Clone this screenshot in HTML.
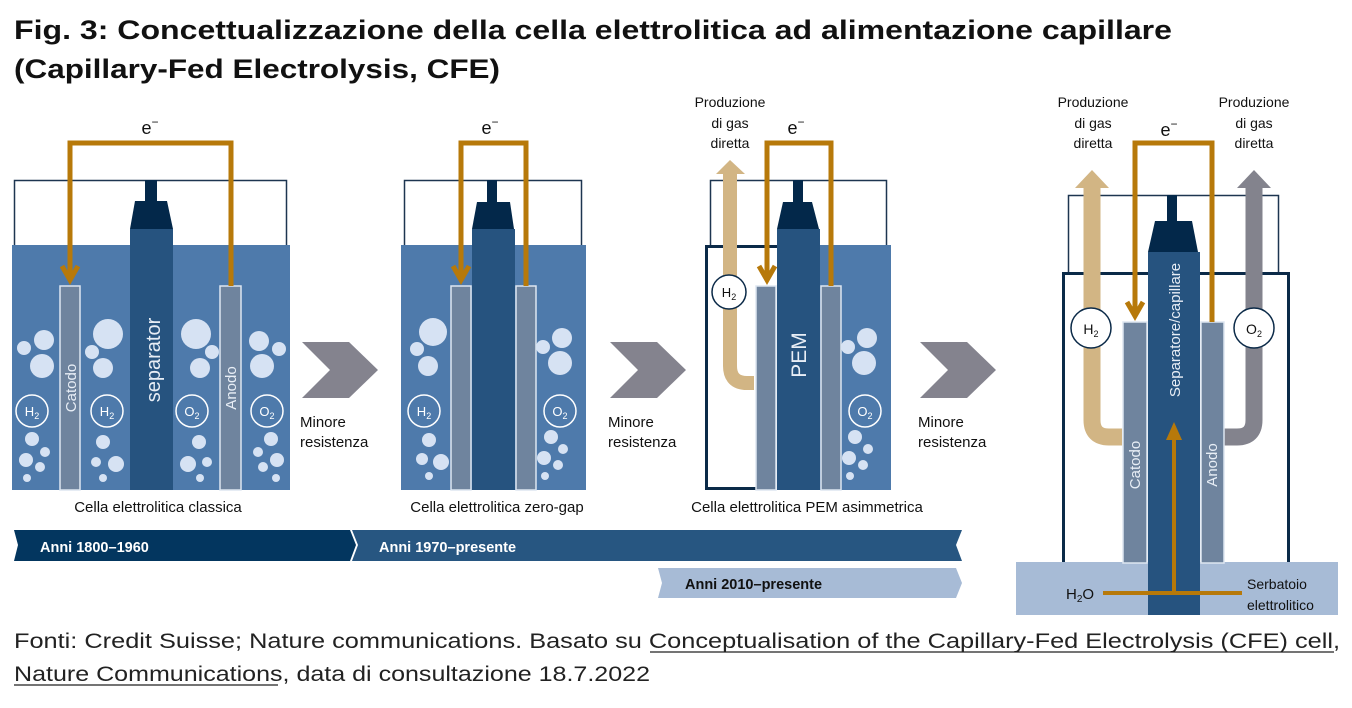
<!DOCTYPE html>
<html><head><meta charset="utf-8"><style>
html,body{margin:0;padding:0;background:#fff;}
svg{display:block;font-family:"Liberation Sans",Arial,sans-serif;}
</style></head><body>
<svg width="1352" height="708" viewBox="0 0 1352 708" xmlns="http://www.w3.org/2000/svg">
<!-- Title -->
<text x="14" y="39" font-size="27" font-weight="bold" fill="#111" textLength="1158" lengthAdjust="spacingAndGlyphs">Fig. 3: Concettualizzazione della cella elettrolitica ad alimentazione capillare</text>
<text x="14" y="78" font-size="27" font-weight="bold" fill="#111" textLength="486" lengthAdjust="spacingAndGlyphs">(Capillary-Fed Electrolysis, CFE)</text>

<!-- ============ CELL 1 ============ -->
<rect x="14.5" y="180.5" width="272" height="66" fill="#fff" stroke="#1d3550" stroke-width="1.5"/>
<rect x="12" y="245" width="278" height="245" fill="#4e7aab"/>
<rect x="145" y="180" width="12" height="22" fill="#03284a"/>
<polygon points="135,201 167,201 173,229 130,229" fill="#03284a"/>
<rect x="130" y="229" width="43" height="261" fill="#26537f"/>
<rect x="60" y="286" width="20" height="204" fill="#6f849e" stroke="#dde6f1" stroke-width="1.5"/>
<rect x="220" y="286" width="21" height="204" fill="#6f849e" stroke="#dde6f1" stroke-width="1.5"/>
<path d="M231,286 V143 H70 V278" fill="none" stroke="#b7790a" stroke-width="5"/>
<path d="M62,266 L70,280 L78,266" fill="none" stroke="#b7790a" stroke-width="5"/>
<text x="150" y="134" font-size="18" text-anchor="middle" fill="#111">e<tspan font-size="12" dy="-8">−</tspan></text>
<g fill="#d6e2f3">
<circle cx="24" cy="348" r="7"/><circle cx="44" cy="340" r="10"/><circle cx="42" cy="366" r="12"/>
<circle cx="32" cy="439" r="7"/><circle cx="45" cy="452" r="5"/><circle cx="26" cy="460" r="7"/><circle cx="40" cy="467" r="5"/><circle cx="27" cy="478" r="4"/>
<circle cx="108" cy="334" r="15"/><circle cx="92" cy="352" r="7"/><circle cx="103" cy="368" r="10"/>
<circle cx="103" cy="442" r="7"/><circle cx="116" cy="464" r="8"/><circle cx="96" cy="462" r="5"/><circle cx="103" cy="478" r="4"/>
<circle cx="196" cy="334" r="15"/><circle cx="212" cy="352" r="7"/><circle cx="200" cy="368" r="10"/>
<circle cx="199" cy="442" r="7"/><circle cx="188" cy="464" r="8"/><circle cx="207" cy="462" r="5"/><circle cx="200" cy="478" r="4"/>
<circle cx="259" cy="341" r="10"/><circle cx="279" cy="349" r="7"/><circle cx="262" cy="366" r="12"/>
<circle cx="271" cy="439" r="7"/><circle cx="258" cy="452" r="5"/><circle cx="277" cy="460" r="7"/><circle cx="263" cy="467" r="5"/><circle cx="276" cy="478" r="4"/>
</g>
<g fill="none" stroke="#fff" stroke-width="1.5">
<circle cx="32" cy="411" r="16"/><circle cx="107" cy="411" r="16"/><circle cx="192" cy="411" r="16"/><circle cx="267" cy="411" r="16"/>
</g>
<g fill="#fff" font-size="13" text-anchor="middle">
<text x="32" y="416">H<tspan font-size="9" dy="3">2</tspan></text>
<text x="107" y="416">H<tspan font-size="9" dy="3">2</tspan></text>
<text x="192" y="416">O<tspan font-size="9" dy="3">2</tspan></text>
<text x="267" y="416">O<tspan font-size="9" dy="3">2</tspan></text>
</g>
<text transform="translate(76,388) rotate(-90)" font-size="15" fill="#e8eef6" text-anchor="middle">Catodo</text>
<text transform="translate(236,388) rotate(-90)" font-size="15" fill="#e8eef6" text-anchor="middle">Anodo</text>
<text transform="translate(160,360) rotate(-90)" font-size="20" fill="#e8eef6" text-anchor="middle">separator</text>
<text x="158" y="512" font-size="15" text-anchor="middle" fill="#111">Cella elettrolitica classica</text>

<!-- Chevrons -->
<g fill="#84838e">
<polygon points="302,342 349,342 378,370 349,398 302,398 330,370"/>
<polygon points="610,342 657,342 686,370 657,398 610,398 638,370"/>
<polygon points="920,342 967,342 996,370 967,398 920,398 948,370"/>
</g>
<g font-size="15" fill="#111">
<text x="300" y="427">Minore</text><text x="300" y="447">resistenza</text>
<text x="608" y="427">Minore</text><text x="608" y="447">resistenza</text>
<text x="918" y="427">Minore</text><text x="918" y="447">resistenza</text>
</g>

<!-- ============ CELL 2 ============ -->
<rect x="404.5" y="180.5" width="177" height="66" fill="#fff" stroke="#1d3550" stroke-width="1.5"/>
<rect x="401" y="245" width="185" height="245" fill="#4e7aab"/>
<rect x="487" y="180" width="10" height="22" fill="#03284a"/>
<polygon points="477,202 510,202 514,229 472,229" fill="#03284a"/>
<rect x="472" y="229" width="43" height="261" fill="#26537f"/>
<rect x="451" y="286" width="20" height="204" fill="#6f849e" stroke="#dde6f1" stroke-width="1.5"/>
<rect x="516" y="286" width="20" height="204" fill="#6f849e" stroke="#dde6f1" stroke-width="1.5"/>
<path d="M526,286 V143 H461 V278" fill="none" stroke="#b7790a" stroke-width="5"/>
<path d="M453,266 L461,280 L469,266" fill="none" stroke="#b7790a" stroke-width="5"/>
<text x="490" y="134" font-size="18" text-anchor="middle" fill="#111">e<tspan font-size="12" dy="-8">−</tspan></text>
<g fill="#d6e2f3">
<circle cx="433" cy="332" r="14"/><circle cx="417" cy="349" r="7"/><circle cx="428" cy="366" r="10"/>
<circle cx="429" cy="440" r="7"/><circle cx="422" cy="459" r="6"/><circle cx="441" cy="462" r="8"/><circle cx="429" cy="476" r="4"/>
<circle cx="562" cy="338" r="10"/><circle cx="543" cy="347" r="7"/><circle cx="560" cy="363" r="12"/>
<circle cx="551" cy="437" r="7"/><circle cx="563" cy="449" r="5"/><circle cx="544" cy="458" r="7"/><circle cx="558" cy="465" r="5"/><circle cx="545" cy="476" r="4"/>
</g>
<g fill="none" stroke="#fff" stroke-width="1.5"><circle cx="424" cy="411" r="16"/><circle cx="560" cy="411" r="16"/></g>
<g fill="#fff" font-size="13" text-anchor="middle">
<text x="424" y="416">H<tspan font-size="9" dy="3">2</tspan></text>
<text x="560" y="416">O<tspan font-size="9" dy="3">2</tspan></text>
</g>
<text x="497" y="512" font-size="15" text-anchor="middle" fill="#111">Cella elettrolitica zero-gap</text>

<!-- ============ CELL 3 ============ -->
<rect x="710.5" y="180.5" width="176" height="66" fill="#fff" stroke="#1d3550" stroke-width="1.5"/>
<path d="M777,246.5 H706.5 V488.5 H756" fill="#fff" stroke="#0b2a48" stroke-width="3"/>
<rect x="820" y="245" width="71" height="245" fill="#4e7aab"/>
<rect x="793" y="180" width="10" height="22" fill="#03284a"/>
<polygon points="783,202 812,202 819,229 777,229" fill="#03284a"/>
<rect x="777" y="229" width="43" height="261" fill="#26537f"/>
<rect x="756" y="286" width="20" height="204" fill="#6f849e" stroke="#dde6f1" stroke-width="1.5"/>
<rect x="821" y="286" width="20" height="204" fill="#6f849e" stroke="#dde6f1" stroke-width="1.5"/>
<path d="M730,173 V366 Q730,383 747,383 H754" fill="none" stroke="#d2b584" stroke-width="14"/>
<polygon points="716,174 745,174 730,160" fill="#d2b584"/>
<path d="M831,286 V143 H767 V278" fill="none" stroke="#b7790a" stroke-width="5"/>
<path d="M759,266 L767,280 L775,266" fill="none" stroke="#b7790a" stroke-width="5"/>
<text x="796" y="134" font-size="18" text-anchor="middle" fill="#111">e<tspan font-size="12" dy="-8">−</tspan></text>
<g font-size="14" text-anchor="middle" fill="#111"><text x="730" y="107">Produzione</text><text x="730" y="128">di gas</text><text x="730" y="148">diretta</text></g>
<circle cx="729" cy="292" r="17" fill="#fff" stroke="#0b2a48" stroke-width="1.5"/>
<text x="729" y="297" font-size="13" text-anchor="middle" fill="#111">H<tspan font-size="9" dy="3">2</tspan></text>
<text transform="translate(806,355) rotate(-90)" font-size="21" fill="#e8eef6" text-anchor="middle">PEM</text>
<g fill="#d6e2f3">
<circle cx="867" cy="338" r="10"/><circle cx="848" cy="347" r="7"/><circle cx="864" cy="363" r="12"/>
<circle cx="855" cy="437" r="7"/><circle cx="868" cy="449" r="5"/><circle cx="849" cy="458" r="7"/><circle cx="863" cy="465" r="5"/><circle cx="850" cy="476" r="4"/>
</g>
<circle cx="865" cy="411" r="16" fill="none" stroke="#fff" stroke-width="1.5"/>
<text x="865" y="416" font-size="13" text-anchor="middle" fill="#fff">O<tspan font-size="9" dy="3">2</tspan></text>
<text x="807" y="512" font-size="15" text-anchor="middle" fill="#111">Cella elettrolitica PEM asimmetrica</text>

<!-- ============ CELL 4 ============ -->
<rect x="1068.5" y="195.5" width="210" height="78" fill="#fff" stroke="#1d3550" stroke-width="1.5"/>
<rect x="1063.5" y="273.5" width="225" height="290" fill="#fff" stroke="#0b2a48" stroke-width="3"/>
<rect x="1016" y="562" width="322" height="53" fill="#a7bbd6"/>
<path d="M1092,187 V420 Q1092,437 1109,437 H1122" fill="none" stroke="#d2b584" stroke-width="17"/>
<polygon points="1075,188 1109,188 1092,170" fill="#d2b584"/>
<path d="M1254,187 V420 Q1254,437 1237,437 H1224" fill="none" stroke="#83838d" stroke-width="17"/>
<polygon points="1237,188 1271,188 1254,170" fill="#83838d"/>
<rect x="1167" y="195" width="10" height="27" fill="#03284a"/>
<polygon points="1155,221 1192,221 1198,252 1148,252" fill="#03284a"/>
<rect x="1148" y="252" width="52" height="363" fill="#26537f"/>
<rect x="1123" y="322" width="24" height="241" fill="#6f849e" stroke="#dde6f1" stroke-width="1.5"/>
<rect x="1201" y="322" width="23" height="241" fill="#6f849e" stroke="#dde6f1" stroke-width="1.5"/>
<path d="M1212,322 V143 H1135 V314" fill="none" stroke="#b7790a" stroke-width="5"/>
<path d="M1127,302 L1135,316 L1143,302" fill="none" stroke="#b7790a" stroke-width="5"/>
<text x="1169" y="136" font-size="18" text-anchor="middle" fill="#111">e<tspan font-size="12" dy="-8">−</tspan></text>
<path d="M1103,593 H1242" stroke="#b7790a" stroke-width="4"/>
<path d="M1174,593 V438" stroke="#b7790a" stroke-width="4"/>
<polygon points="1166,440 1182,440 1174,422" fill="#b7790a"/>
<circle cx="1091" cy="328" r="20" fill="#fff" stroke="#0b2a48" stroke-width="1.5"/>
<text x="1091" y="334" font-size="14" text-anchor="middle" fill="#111">H<tspan font-size="9" dy="3">2</tspan></text>
<circle cx="1254" cy="328" r="20" fill="#fff" stroke="#0b2a48" stroke-width="1.5"/>
<text x="1254" y="334" font-size="14" text-anchor="middle" fill="#111">O<tspan font-size="9" dy="3">2</tspan></text>
<g font-size="14" text-anchor="middle" fill="#111">
<text x="1093" y="107">Produzione</text><text x="1093" y="128">di gas</text><text x="1093" y="148">diretta</text>
<text x="1254" y="107">Produzione</text><text x="1254" y="128">di gas</text><text x="1254" y="148">diretta</text>
</g>
<text transform="translate(1140,465) rotate(-90)" font-size="15" fill="#e8eef6" text-anchor="middle">Catodo</text>
<text transform="translate(1217,465) rotate(-90)" font-size="15" fill="#e8eef6" text-anchor="middle">Anodo</text>
<text transform="translate(1180,330) rotate(-90)" font-size="15" fill="#e8eef6" text-anchor="middle">Separatore/capillare</text>
<text x="1066" y="599" font-size="15" fill="#111">H<tspan font-size="10" dy="3">2</tspan><tspan dy="-3">O</tspan></text>
<text x="1247" y="589" font-size="14" fill="#111">Serbatoio</text>
<text x="1247" y="610" font-size="14" fill="#111">elettrolitico</text>

<!-- Timeline -->
<polygon points="352,530 962,530 956,545 962,561 352,561 358,545" fill="#275681"/>
<polygon points="14,530 350,530 356,545 350,561 14,561 18,545" fill="#03365f"/>
<polygon points="658,568 956,568 962,583 956,598 658,598 662,583" fill="#a7bbd6"/>
<text x="40" y="552" font-size="14.5" font-weight="bold" fill="#fff">Anni 1800–1960</text>
<text x="379" y="552" font-size="14.5" font-weight="bold" fill="#fff">Anni 1970–presente</text>
<text x="685" y="589" font-size="14.5" font-weight="bold" fill="#111">Anni 2010–presente</text>

<!-- Footer -->
<text x="14" y="648" font-size="21.5" fill="#222" textLength="1326" lengthAdjust="spacingAndGlyphs">Fonti: Credit Suisse; Nature communications. Basato su Conceptualisation of the Capillary-Fed Electrolysis (CFE) cell,</text>
<line x1="650" y1="652" x2="1334" y2="652" stroke="#222" stroke-width="1.2"/>
<text x="14" y="681" font-size="21.5" fill="#222" textLength="636" lengthAdjust="spacingAndGlyphs">Nature Communications, data di consultazione 18.7.2022</text>
<line x1="14" y1="685" x2="278" y2="685" stroke="#222" stroke-width="1.2"/>
</svg>
</body></html>
